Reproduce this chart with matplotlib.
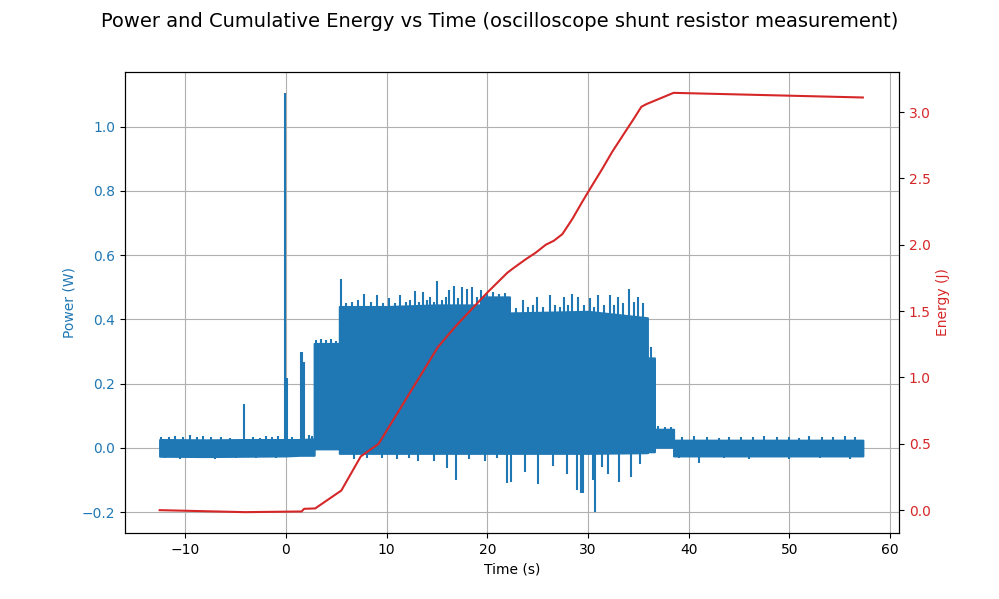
import matplotlib
matplotlib.use("Agg")
import matplotlib.pyplot as plt
import numpy as np

# envelope of the dense power trace
t_env = [-12.55, -8.0, -4.0, 0.0, 1.4, 2.8, 2.8, 5.3, 5.3, 10.0, 15.0, 19.5,
         19.5, 22.2, 22.2, 30.0, 35.9, 35.9, 36.6, 36.6, 38.5, 38.5, 48.0, 57.3]
p_upper = [0.026, 0.025, 0.026, 0.026, 0.026, 0.028, 0.325, 0.325, 0.44, 0.44, 0.445, 0.445,
           0.47, 0.47, 0.42, 0.425, 0.405, 0.28, 0.28, 0.058, 0.058, 0.024, 0.024, 0.024]
p_lower = [-0.026, -0.027, -0.026, -0.025, -0.023, -0.023, -0.003, -0.003, -0.017, -0.017, -0.017, -0.017,
           -0.017, -0.017, -0.017, -0.017, -0.015, -0.012, -0.012, 0.002, 0.002, -0.025, -0.025, -0.025]

# upward spikes
up_t = [-12.4, -11.6, -11.0, -10.2, -9.5, -8.8, -8.2, -7.4, -6.5, -5.6, -4.13, -3.3, -2.6, -2.0,
        -1.4, -0.8, -0.05, 0.13, 0.6, 1.45, 1.55, 1.75, 2.3, 2.6,
        3.0, 3.5, 4.0, 4.5, 5.0,
        5.5, 6.0, 6.6, 7.2, 7.8, 8.4, 9.0, 9.6, 10.2, 10.8, 11.3, 11.9, 12.3, 12.8, 13.2, 13.6,
        14.0, 14.3, 14.7, 15.05, 15.5, 15.9, 16.2, 16.7, 17.1, 17.5, 18.0, 18.5, 19.0, 19.4,
        20.0, 20.6, 21.2, 21.8,
        22.8, 23.5, 24.0, 24.5, 24.9, 25.5, 26.2, 26.7, 27.2, 27.6, 28.0, 28.4, 29.0, 29.6, 30.2,
        30.6, 31.0, 31.6, 32.2, 32.6, 33.0, 33.5, 34.1, 34.6, 35.0, 35.5, 36.3,
        37.0, 37.6, 38.2, 39.3, 40.5, 41.8, 43.0, 44.0, 45.2, 46.4, 47.5, 48.8, 50.0, 51.0, 52.0,
        53.2, 54.3, 55.5, 56.5]
up_p = [0.035, 0.033, 0.038, 0.033, 0.040, 0.034, 0.036, 0.033, 0.035, 0.032, 0.138, 0.034, 0.032, 0.036,
        0.034, 0.038, 1.105, 0.218, 0.034, 0.298, 0.298, 0.267, 0.040, 0.036,
        0.335, 0.338, 0.336, 0.338, 0.334,
        0.527, 0.45, 0.455, 0.46, 0.48, 0.455, 0.475, 0.452, 0.465, 0.45, 0.475, 0.455, 0.46, 0.489, 0.455, 0.485,
        0.46, 0.47, 0.455, 0.52, 0.46, 0.47, 0.49, 0.505, 0.465, 0.50, 0.495, 0.50, 0.47, 0.49,
        0.48, 0.485, 0.48, 0.482,
        0.435, 0.46, 0.44, 0.445, 0.47, 0.44, 0.475, 0.445, 0.44, 0.47, 0.445, 0.48, 0.47, 0.445, 0.465,
        0.44, 0.475, 0.445, 0.475, 0.445, 0.47, 0.45, 0.494, 0.455, 0.47, 0.45, 0.315,
        0.068, 0.066, 0.064, 0.034, 0.036, 0.033, 0.032, 0.035, 0.033, 0.034, 0.037, 0.033, 0.034, 0.032, 0.036,
        0.033, 0.035, 0.037, 0.034]

# downward spikes
down_t = [-12.0, -10.5, -9.0, -7.0, -5.0, -3.0, -1.0, 6.8, 8.0, 9.5, 11.0, 12.2, 13.1, 14.75, 16.0, 16.9,
          18.2, 19.8, 21.0, 22.0, 22.4, 23.76, 25.05, 26.5, 27.9, 28.9, 29.3, 29.5, 30.5, 30.7, 31.4,
          32.0, 33.1, 34.3, 35.2, 39.0, 41.0, 43.5, 46.0, 50.0, 53.0, 56.0]
down_p = [-0.033, -0.035, -0.031, -0.034, -0.032, -0.033, -0.031, -0.035, -0.03, -0.032, -0.035, -0.03, -0.04,
          -0.04, -0.062, -0.10, -0.035, -0.04, -0.033, -0.108, -0.105, -0.075, -0.113, -0.057, -0.08, -0.13,
          -0.139, -0.139, -0.10, -0.20, -0.06, -0.08, -0.105, -0.09, -0.05, -0.033, -0.046, -0.032, -0.034,
          -0.036, -0.033, -0.034]

# cumulative energy
t_energy = [-12.55, -4.06, 1.55, 1.8, 2.9, 5.5, 7.43, 9.2, 15.1, 16.9, 20.0, 22.0, 22.7, 23.8,
            24.8, 25.8, 26.6, 27.45, 28.45, 29.4, 30.27, 31.4, 32.4, 33.6, 34.55, 35.3, 35.8,
            38.5, 57.3]
energy = [0.0, -0.015, -0.01, 0.01, 0.013, 0.148, 0.405, 0.50, 1.23, 1.39, 1.64, 1.79, 1.83, 1.89,
          1.94, 2.0, 2.03, 2.08, 2.195, 2.32, 2.43, 2.57, 2.70, 2.84, 2.95, 3.04, 3.06,
          3.145, 3.11]

fig, ax1 = plt.subplots(figsize=(9.99, 5.99), dpi=100)
blue = "tab:blue"
red = "tab:red"

ax1.fill_between(t_env, p_lower, p_upper, color=blue, linewidth=1.5, edgecolor=blue, zorder=2)
ax1.vlines(up_t, 0, up_p, color=blue, linewidth=1.5, zorder=2)
ax1.vlines(down_t, 0, down_p, color=blue, linewidth=1.5, zorder=2)
ax1.set_xlabel("Time (s)")
ax1.set_ylabel("Power (W)", color=blue)
ax1.tick_params(axis="y", labelcolor=blue)
ax1.grid(True)
ax1.set_xlim(-16.0, 60.9)

ax2 = ax1.twinx()
ax2.plot(t_energy, energy, color=red, linewidth=1.5)
ax2.set_ylabel("Energy (J)", color=red)
ax2.tick_params(axis="y", labelcolor=red)

fig.suptitle("Power and Cumulative Energy vs Time (oscilloscope shunt resistor measurement)", fontsize=14)
fig.savefig("out.png")
